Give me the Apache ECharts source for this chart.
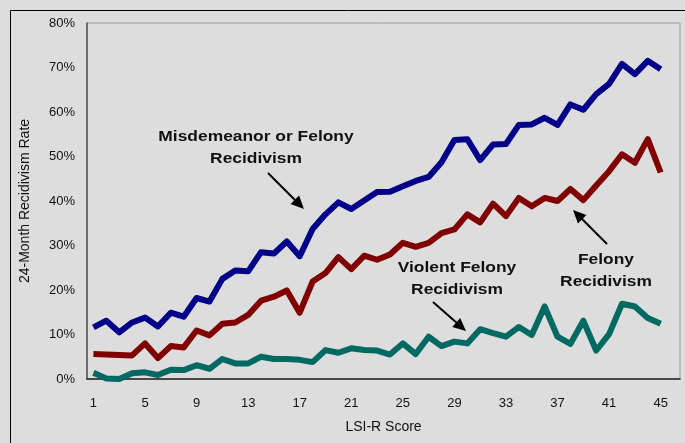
<!DOCTYPE html>
<html>
<head>
<meta charset="utf-8">
<script src="https://cdn.jsdelivr.net/npm/echarts@6/dist/echarts.min.js"></script>
<style>
    html, body { margin: 0; padding: 0; background: #dddddd; }
    #chart { width: 685px; height: 443px; }
</style>
</head>
<body>
<div id="chart"></div>
<script>
// LSI-R scores (last slot is empty, Excel-style padding on the right)
var scores = ['1', '2', '3', '4', '5', '6', '7', '8', '9', '10', '11', '12', '13', '14', '15',
    '16', '17', '18', '19', '20', '21', '22', '23', '24', '25', '26', '27', '28', '29', '30',
    '31', '32', '33', '34', '35', '36', '37', '38', '39', '40', '41', '42', '43', '44', '45', ''];

// 24-month recidivism rates, %
var anyRecid = [11.6, 13.1, 10.5, 12.7, 13.8, 11.8, 14.9, 14.0, 18.2, 17.4, 22.5, 24.4, 24.2, 28.5, 28.2,
    30.9, 27.6, 33.7, 37.0, 39.7, 38.2, 40.1, 42.0, 42.1, 43.3, 44.5, 45.4, 48.7, 53.7, 53.9,
    49.2, 52.7, 52.8, 57.1, 57.2, 58.7, 57.1, 61.7, 60.5, 64.0, 66.3, 70.8, 68.5, 71.5, 69.6];
var felony = [5.6, 5.5, 5.4, 5.3, 8.0, 4.7, 7.4, 7.1, 10.9, 9.8, 12.4, 12.7, 14.4, 17.6, 18.5,
    19.9, 14.9, 21.9, 23.8, 27.4, 24.7, 27.7, 26.8, 28.0, 30.6, 29.7, 30.6, 32.8, 33.6, 37.0,
    35.2, 39.4, 36.6, 40.7, 38.8, 40.7, 40.0, 42.7, 40.2, 43.5, 46.7, 50.5, 48.6, 53.9, 46.4];
var violent = [1.4, 0.1, 0.0, 1.3, 1.5, 0.9, 2.1, 2.0, 3.1, 2.3, 4.5, 3.5, 3.5, 5.0, 4.5,
    4.5, 4.3, 3.8, 6.5, 5.9, 6.9, 6.5, 6.4, 5.5, 8.0, 5.6, 9.5, 7.4, 8.4, 8.0,
    11.2, 10.3, 9.5, 11.7, 9.9, 16.3, 9.5, 7.9, 13.1, 6.4, 10.1, 16.9, 16.3, 13.7, 12.4];

var yTicks = [0, 80, 10];

// arrow annotation: line plus filled head
function arrow(x1, y1, x2, y2) {
    var dx = x2 - x1, dy = y2 - y1;
    var len = Math.sqrt(dx * dx + dy * dy);
    var ux = dx / len, uy = dy / len;
    var hl = 13, hw = 6;
    var bx = x2 - ux * hl, by = y2 - uy * hl;
    return {
        type: 'group',
        children: [
            {
                type: 'line',
                shape: { x1: x1, y1: y1, x2: bx + ux * 2, y2: by + uy * 2 },
                style: { stroke: '#000', lineWidth: 2 }
            },
            {
                type: 'polygon',
                shape: { points: [[x2, y2], [bx - uy * hw, by + ux * hw], [bx + uy * hw, by - ux * hw]] },
                style: { fill: '#000' }
            }
        ]
    };
}

// the original text is a little stretched sideways, hence scaleX
function label(x, y, text) {
    return {
        type: 'text',
        x: x,
        y: y,
        scaleX: 1.16,
        style: {
            text: text,
            fill: '#111',
            font: 'bold 15px "Liberation Sans", Arial, sans-serif',
            textAlign: 'center',
            textVerticalAlign: 'middle',
            lineHeight: 22
        }
    };
}

var chart = echarts.init(document.getElementById('chart'));
chart.setOption({
    backgroundColor: '#dddddd',
    animation: false,
    textStyle: { fontFamily: '"Liberation Sans", Arial, sans-serif' },
    grid: {
        left: 87, top: 23, right: 5, bottom: 64,
        show: true,
        borderColor: '#9a9a9a',
        borderWidth: 1,
        backgroundColor: 'transparent'
    },
    xAxis: {
        type: 'category',
        data: scores,
        boundaryGap: true,
        name: 'LSI-R Score',
        nameLocation: 'middle',
        nameGap: 41,
        nameTextStyle: { fontSize: 14, color: '#111' },
        axisLine: { lineStyle: { color: '#222', width: 1.5 } },
        axisTick: { show: false },
        axisLabel: { interval: 3, fontSize: 13, color: '#111', margin: 18 },
        splitLine: { show: false }
    },
    yAxis: {
        type: 'value',
        min: yTicks[0],
        max: yTicks[1],
        interval: yTicks[2],
        name: '24-Month Recidivism Rate',
        nameLocation: 'middle',
        nameGap: 55,
        nameTextStyle: { fontSize: 14, color: '#111' },
        axisLine: { show: true, lineStyle: { color: '#555', width: 1.5 } },
        axisTick: { show: false },
        axisLabel: { formatter: '{value}%', fontSize: 13, color: '#111', margin: 12 },
        splitLine: { show: false }
    },
    series: [
        {
            name: 'Misdemeanor or Felony Recidivism',
            type: 'line',
            data: anyRecid,
            symbol: 'none',
            lineStyle: { color: '#000088', width: 6, join: 'round' }
        },
        {
            name: 'Felony Recidivism',
            type: 'line',
            data: felony,
            symbol: 'none',
            lineStyle: { color: '#800000', width: 6, join: 'round' }
        },
        {
            name: 'Violent Felony Recidivism',
            type: 'line',
            data: violent,
            symbol: 'none',
            lineStyle: { color: '#006a62', width: 6, join: 'round' }
        }
    ],
    graphic: [
        {
            type: 'rect',
            shape: { x: 10.5, y: 10.5, width: 700, height: 500 },
            style: { fill: 'none', stroke: '#000', lineWidth: 1 },
            silent: true
        },
        label(256, 148, 'Misdemeanor or Felony\nRecidivism'),
        arrow(268, 173, 304, 209),
        label(457, 279, 'Violent Felony\nRecidivism'),
        arrow(433, 302, 466, 331),
        label(606, 271, 'Felony\nRecidivism'),
        arrow(607, 244, 573, 210)
    ]
});
</script>
</body>
</html>
